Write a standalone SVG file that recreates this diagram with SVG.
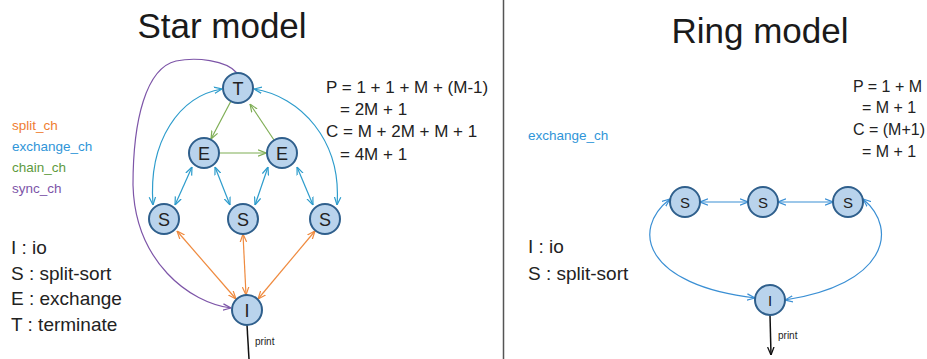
<svg xmlns="http://www.w3.org/2000/svg" width="927" height="359" viewBox="0 0 927 359">
<defs>
<style>
.node circle{fill:#b9d3ec;stroke:#2f5f8c;stroke-width:2}
.node text{font-family:"Liberation Sans",Arial,sans-serif;font-size:18px;fill:#222;text-anchor:middle}
.ring text{font-size:15px}
.c{fill:none;stroke-width:1.2}
.or{stroke:#ef8a3e}
.bl{stroke:#2d9ccc}
.gr{stroke:#7fae55}
.pu{stroke:#7d55a8}
.rb{stroke:#3a8fd4}
.k{stroke:#111;stroke-width:1.5;fill:none}
.t{font-family:"Liberation Sans",Arial,sans-serif;fill:#222}
.title{font-size:35px;fill:#1a1a1a}
.f{font-size:17px}
.fr{font-size:16px}
.lg{font-size:13.5px}
.lb{font-size:19px}
.pr{font-size:10px}
</style>
<marker id="mo" viewBox="0 0 8 8" markerWidth="8" markerHeight="8" refX="8" refY="4" orient="auto-start-reverse" markerUnits="userSpaceOnUse"><path d="M0,0.8 L8,4 L0,7.2" fill="none" stroke="#ef8a3e" stroke-width="1.2"/></marker>
<marker id="mb" viewBox="0 0 8 8" markerWidth="8" markerHeight="8" refX="8" refY="4" orient="auto-start-reverse" markerUnits="userSpaceOnUse"><path d="M0,0.8 L8,4 L0,7.2" fill="none" stroke="#2d9ccc" stroke-width="1.2"/></marker>
<marker id="mg" viewBox="0 0 8 8" markerWidth="8" markerHeight="8" refX="8" refY="4" orient="auto-start-reverse" markerUnits="userSpaceOnUse"><path d="M0,0.8 L8,4 L0,7.2" fill="none" stroke="#7fae55" stroke-width="1.2"/></marker>
<marker id="mp" viewBox="0 0 8 8" markerWidth="8" markerHeight="8" refX="8" refY="4" orient="auto-start-reverse" markerUnits="userSpaceOnUse"><path d="M0,0.8 L8,4 L0,7.2" fill="none" stroke="#7d55a8" stroke-width="1.2"/></marker>
<marker id="mr" viewBox="0 0 8 8" markerWidth="8" markerHeight="8" refX="8" refY="4" orient="auto-start-reverse" markerUnits="userSpaceOnUse"><path d="M0,0.8 L8,4 L0,7.2" fill="none" stroke="#3a8fd4" stroke-width="1.2"/></marker>
<marker id="mk" viewBox="0 0 8 8" markerWidth="8" markerHeight="8" refX="8" refY="4" orient="auto" markerUnits="userSpaceOnUse"><path d="M0,0.8 L8,4 L0,7.2" fill="none" stroke="#111" stroke-width="1.3"/></marker>
</defs>
<rect width="927" height="359" fill="#fff"/>
<line x1="503.5" y1="0" x2="503.5" y2="359" stroke="#555" stroke-width="1.5"/>

<text class="t title" x="222" y="38" text-anchor="middle">Star model</text>
<text class="t title" x="760" y="43" text-anchor="middle">Ring model</text>

<g id="legend-star">
<text class="t lg" x="12" y="130" fill="#ef7d31" style="fill:#ef7d31">split_ch</text>
<text class="t lg" x="12" y="151" style="fill:#2f95d8">exchange_ch</text>
<text class="t lg" x="12" y="172" style="fill:#5e9a40">chain_ch</text>
<text class="t lg" x="12" y="193" style="fill:#7d55a8">sync_ch</text>
<text class="t lb" x="11" y="254">I : io</text>
<text class="t lb" x="11" y="280">S : split-sort</text>
<text class="t lb" x="11" y="305">E : exchange</text>
<text class="t lb" x="11" y="331">T : terminate</text>
</g>
<g id="formula-star">
<text class="t f" x="326" y="93">P = 1 + 1 + M + (M-1)</text>
<text class="t f" x="340" y="115">= 2M + 1</text>
<text class="t f" x="326" y="137">C = M + 2M + M + 1</text>
<text class="t f" x="340" y="160">= 4M + 1</text>
</g>

<g id="connectors">
<path class="c gr" d="M231 101 L211 139" marker-end="url(#mg)"/>
<path class="c gr" d="M219 153 L266 153" marker-end="url(#mg)"/>
<path class="c gr" d="M274 140 L250 104" marker-end="url(#mg)"/>
<path class="c bl" d="M192 167 L175 205" marker-start="url(#mb)" marker-end="url(#mb)"/>
<path class="c bl" d="M215 167 L230 205" marker-start="url(#mb)" marker-end="url(#mb)"/>
<path class="c bl" d="M268 167 L255 205" marker-start="url(#mb)" marker-end="url(#mb)"/>
<path class="c bl" d="M297 167 L313 205" marker-start="url(#mb)" marker-end="url(#mb)"/>
<path class="c bl" d="M153 205 C148 140 180 96 222 89" marker-start="url(#mb)" marker-end="url(#mb)"/>
<path class="c bl" d="M337 205 C342 140 300 96 254 89" marker-start="url(#mb)" marker-end="url(#mb)"/>
<path class="c or" d="M177 231 L236 299" marker-start="url(#mo)" marker-end="url(#mo)"/>
<path class="c or" d="M243 234 L246 295" marker-start="url(#mo)" marker-end="url(#mo)"/>
<path class="c or" d="M315 231 L258 299" marker-start="url(#mo)" marker-end="url(#mo)"/>
<path class="c pu" d="M237 73 C226 60 196 57 176 61 C146 68 133 120 133 185 C135 262 190 303 231 308" marker-end="url(#mp)"/>
<path class="k" d="M247 325 L249 359"/>
<path class="c rb" d="M700 202 L748 202" marker-start="url(#mr)" marker-end="url(#mr)"/>
<path class="c rb" d="M778 202 L833 202" marker-start="url(#mr)" marker-end="url(#mr)"/>
<path class="c rb" d="M670 199 C630 230 645 285 755 298" marker-start="url(#mr)" marker-end="url(#mr)"/>
<path class="c rb" d="M863 199 C900 230 885 285 785 300" marker-start="url(#mr)" marker-end="url(#mr)"/>
<path class="k" d="M770 315 L771 355" marker-end="url(#mk)"/>
</g>
<text class="t pr" x="255" y="345">print</text>
<text class="t pr" x="778" y="339">print</text>

<g id="star-T" class="node"><circle cx="238" cy="88" r="15"/><text x="238" y="94.5">T</text></g>
<g id="star-E1" class="node"><circle cx="204" cy="153" r="15"/><text x="204" y="159.5">E</text></g>
<g id="star-E2" class="node"><circle cx="282" cy="153" r="15"/><text x="282" y="159.5">E</text></g>
<g id="star-S1" class="node"><circle cx="164" cy="219" r="15"/><text x="164" y="225.5">S</text></g>
<g id="star-S2" class="node"><circle cx="243" cy="219" r="15"/><text x="243" y="225.5">S</text></g>
<g id="star-S3" class="node"><circle cx="325" cy="219" r="15"/><text x="325" y="225.5">S</text></g>
<g id="star-I" class="node"><circle cx="247" cy="310" r="15"/><text x="247" y="316.5">I</text></g>

<g id="legend-ring">
<text class="t lg" x="528" y="140" style="fill:#2f95d8">exchange_ch</text>
<text class="t lb" x="528" y="253">I : io</text>
<text class="t lb" x="528" y="280">S : split-sort</text>
</g>
<g id="formula-ring">
<text class="t fr" x="853" y="92">P = 1 + M</text>
<text class="t fr" x="862" y="113">= M + 1</text>
<text class="t fr" x="853" y="135">C = (M+1)</text>
<text class="t fr" x="862" y="157">= M + 1</text>
</g>

<g id="ring-S1" class="node ring"><circle cx="685" cy="202" r="15"/><text x="685" y="207.5">S</text></g>
<g id="ring-S2" class="node ring"><circle cx="763" cy="202" r="15"/><text x="763" y="207.5">S</text></g>
<g id="ring-S3" class="node ring"><circle cx="848" cy="202" r="15"/><text x="848" y="207.5">S</text></g>
<g id="ring-I" class="node ring"><circle cx="770" cy="300" r="15"/><text x="770" y="305.5">I</text></g>
</svg>
